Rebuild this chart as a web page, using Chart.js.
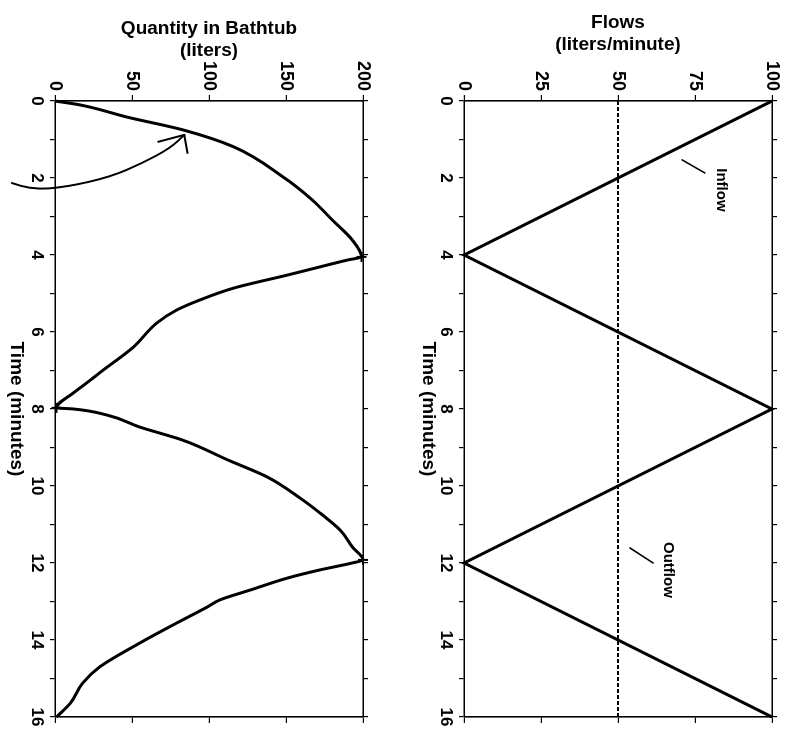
<!DOCTYPE html>
<html>
<head>
<meta charset="utf-8">
<title>Bathtub flows and quantity</title>
<script src="https://cdn.jsdelivr.net/npm/chart.js@4/dist/chart.umd.min.js"></script>
<style>
  html, body { margin: 0; padding: 0; background: #fff; overflow: hidden; width: 799px; height: 743px; }
  /* the two plots are laid out landscape, then the whole sheet is turned a quarter turn clockwise */
  #sheet { position: absolute; left: 0; top: 0; width: 743px; height: 799px; background: #fff;
           transform-origin: 0 0; transform: translateX(799px) rotate(90deg); }
  #flows { position: absolute; left: 0; top: 0; }
  #tub { position: absolute; left: 0; top: 400px; }
</style>
</head>
<body>
<div id="sheet">
  <canvas id="flows" width="743" height="400"></canvas>
  <canvas id="tub" width="743" height="399"></canvas>
</div>
<script>
// ---- data ----
const flowTimes    = [0, 4, 8, 12, 16];          // minutes
const inflow       = [100, 0, 100, 0, 100];      // liters/minute
const outflowTimes = [0, 16];
const outflow      = [50, 50];

const tubTimes = [0, 0.10, 0.42, 0.75, 1.19, 1.97, 2.57, 3.09, 3.61, 4.05,
                  4.13, 4.31, 4.52, 4.86, 5.17, 5.43, 5.77, 6.39, 7.06, 7.25, 7.58, 7.97,
                  8.0, 8.16, 8.47, 8.81, 9.32, 9.77, 10.31, 10.70, 11.14, 11.58, 11.92,
                  12.0, 12.18, 12.39, 12.7, 12.96, 13.14, 13.56, 14.08, 14.70, 15.12, 15.64, 16.0];
const tubLiters = [0, 16, 47, 83, 116, 148, 167, 180, 193, 199,
                   190, 172, 151, 116, 94, 79, 66, 51, 29, 23, 12, 1,
                   12, 34, 55, 83, 112, 138, 159, 172, 185, 193, 200,
                   193, 172, 151, 127, 107, 99, 79, 55, 29, 18, 10, 1];

const timeMin = 0, timeMax = 16, timeStep = 1;
const flowMax = 100, flowStep = 25;
const tubMax = 200, tubStep = 50;

// series labels written beside the lines (time, value)
const flowNoteText  = ['Inflow', 'Outflow'];
const flowNoteTime  = [2.31, 12.18];
const flowNoteValue = [83.4, 66.2];
// short leader strokes next to the labels: [t1, v1, t2, v2]
const flowLeaders = [[1.53, 70.8, 1.87, 78.2], [11.61, 53.9, 12.0, 61.4]];

// pencilled arrow pointing at the early part of the fill curve (time, liters)
const arrowTimes  = [2.13, 2.31, 2.23, 1.97, 1.61, 1.22, 0.88];
const arrowLiters = [-28, -16, 8, 36, 57, 75, 84];
const arrowBarbTimes  = [1.06, 1.35];
const arrowBarbLiters = [67, 86];

// ---- styling helpers ----
const FAMILY = "'Liberation Sans', Arial, Helvetica, sans-serif";
const INK = '#000';
const toPoints = (xs, ys) => xs.map((x, i) => ({ x: x, y: ys[i] }));

function timeAxis(position, labelled, height, titlePadBottom) {
  return {
    type: 'linear', position: position, min: timeMin, max: timeMax,
    ticks: {
      display: labelled, stepSize: timeStep, autoSkip: false, maxRotation: 0, minRotation: 0,
      padding: 3, color: INK, font: { family: FAMILY, size: 17, weight: 'bold' },
      callback: v => (v % 2 === 0 ? String(v) : '')
    },
    grid: { display: true, drawOnChartArea: false, drawTicks: true, tickLength: 5, color: INK, lineWidth: 1.2 },
    border: { display: true, color: INK, width: 1.6 },
    title: labelled ? {
      display: true, text: 'Time (minutes)', color: INK,
      font: { family: FAMILY, size: 19, weight: 'bold', lineHeight: 1.2 },
      padding: { top: 0, bottom: titlePadBottom }
    } : { display: false },
    afterFit: s => { s.height = height; }
  };
}

function valueAxis(position, labelled, max, step, width, title, titlePadTop) {
  return {
    type: 'linear', position: position, min: 0, max: max,
    ticks: {
      display: labelled, stepSize: step, padding: 4, color: INK,
      font: { family: FAMILY, size: 18, weight: 'bold' }
    },
    grid: { display: true, drawOnChartArea: false, drawTicks: true, tickLength: 6, color: INK, lineWidth: 1.2 },
    border: { display: true, color: INK, width: 1.6 },
    title: labelled ? {
      display: true, text: title, color: INK,
      font: { family: FAMILY, size: 19, weight: 'bold', lineHeight: 1.2 },
      padding: { top: titlePadTop, bottom: 0 }
    } : { display: false },
    afterFit: s => { s.width = width; }
  };
}

const commonOptions = {
  responsive: false, devicePixelRatio: 1, animation: false,
  layout: { padding: 0 },
  plugins: { legend: { display: false }, tooltip: { enabled: false } },
  elements: { point: { radius: 0 } }
};

// labels and leader strokes on the flow chart
const flowNotes = {
  id: 'flowNotes',
  afterDatasetsDraw(chart) {
    const { ctx, scales: { x, y } } = chart;
    ctx.save();
    ctx.strokeStyle = INK; ctx.lineWidth = 1.6; ctx.lineCap = 'round';
    flowLeaders.forEach(l => {
      ctx.beginPath();
      ctx.moveTo(x.getPixelForValue(l[0]), y.getPixelForValue(l[1]));
      ctx.lineTo(x.getPixelForValue(l[2]), y.getPixelForValue(l[3]));
      ctx.stroke();
    });
    ctx.fillStyle = INK;
    ctx.font = 'bold 15px ' + FAMILY;
    ctx.textAlign = 'center'; ctx.textBaseline = 'middle';
    flowNoteText.forEach((t, i) => {
      ctx.fillText(t, x.getPixelForValue(flowNoteTime[i]), y.getPixelForValue(flowNoteValue[i]));
    });
    ctx.restore();
  }
};

// hand-drawn arrow on the bathtub chart
const tubArrow = {
  id: 'tubArrow',
  afterDatasetsDraw(chart) {
    const { ctx, scales: { x, y } } = chart;
    const px = i => x.getPixelForValue(arrowTimes[i]);
    const py = i => y.getPixelForValue(arrowLiters[i]);
    ctx.save();
    ctx.strokeStyle = INK; ctx.lineWidth = 2; ctx.lineCap = 'round'; ctx.lineJoin = 'round';
    ctx.beginPath();
    ctx.moveTo(px(0), py(0));
    for (let i = 1; i < arrowTimes.length - 1; i++) {
      const mx = (px(i) + px(i + 1)) / 2, my = (py(i) + py(i + 1)) / 2;
      ctx.quadraticCurveTo(px(i), py(i), mx, my);
    }
    const tip = arrowTimes.length - 1;
    ctx.lineTo(px(tip), py(tip));
    ctx.stroke();
    arrowBarbTimes.forEach((t, i) => {
      ctx.beginPath();
      ctx.moveTo(x.getPixelForValue(t), y.getPixelForValue(arrowBarbLiters[i]));
      ctx.lineTo(px(tip), py(tip));
      ctx.stroke();
    });
    ctx.restore();
  }
};

// ---- flows chart ----
new Chart(document.getElementById('flows'), {
  type: 'line',
  data: {
    datasets: [
      { label: 'Inflow', data: toPoints(flowTimes, inflow), borderColor: INK, borderWidth: 3,
        pointRadius: 0, tension: 0, clip: false, xAxisID: 'x', yAxisID: 'y' },
      { label: 'Outflow', data: toPoints(outflowTimes, outflow), borderColor: INK, borderWidth: 2,
        borderDash: [4, 2], pointRadius: 0, tension: 0, clip: false, xAxisID: 'x', yAxisID: 'y' }
    ]
  },
  options: Object.assign({}, commonOptions, {
    scales: {
      x: timeAxis('bottom', true, 65, 18),
      x2: timeAxis('top', false, 27, 0),
      y: valueAxis('left', true, flowMax, flowStep, 101, ['Flows', '(liters/minute)'], 11),
      y2: valueAxis('right', false, flowMax, flowStep, 26, '', 0)
    }
  }),
  plugins: [flowNotes]
});

// ---- bathtub quantity chart ----
const isTurn = (ctx) => {
  const i = ctx.dataIndex, d = tubLiters;
  if (i <= 0 || i >= d.length - 1) return false;
  return (d[i] > d[i - 1] && d[i] > d[i + 1]) || (d[i] < d[i - 1] && d[i] < d[i + 1]);
};

new Chart(document.getElementById('tub'), {
  type: 'line',
  data: {
    datasets: [
      { label: 'Quantity in Bathtub', data: toPoints(tubTimes, tubLiters), borderColor: INK, borderWidth: 3,
        cubicInterpolationMode: 'monotone', clip: false,
        pointStyle: 'cross', pointBorderColor: INK, pointBorderWidth: 2,
        pointRadius: ctx => (isTurn(ctx) ? 5 : 0),
        xAxisID: 'x', yAxisID: 'y' }
    ]
  },
  options: Object.assign({}, commonOptions, {
    scales: {
      x: timeAxis('bottom', true, 55, 5),
      x2: timeAxis('top', false, 36, 0),
      y: valueAxis('left', true, tubMax, tubStep, 101, ['Quantity in Bathtub', '(liters)'], 17),
      y2: valueAxis('right', false, tubMax, tubStep, 26, '', 0)
    }
  }),
  plugins: [tubArrow]
});
</script>
</body>
</html>
